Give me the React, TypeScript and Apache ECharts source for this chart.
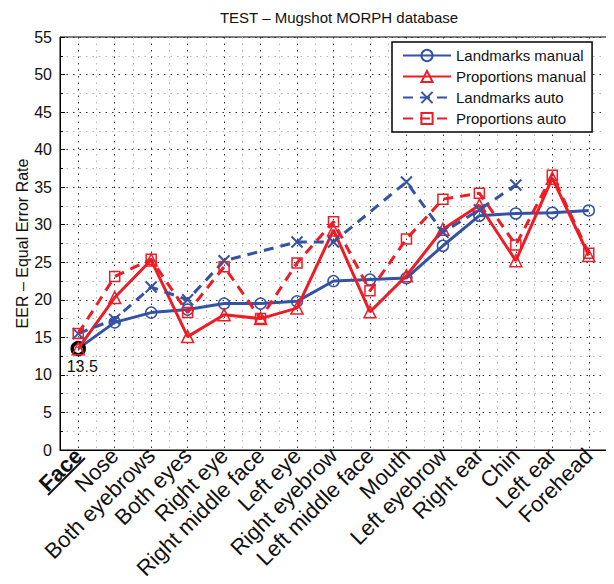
import React, { useEffect, useRef } from "react";
import * as echarts from "echarts";

const categories = [
  "Face", "Nose", "Both eyebrows", "Both eyes", "Right eye", "Right middle face",
  "Left eye", "Right eyebrow", "Left middle face", "Mouth", "Left eyebrow",
  "Right ear", "Chin", "Left ear", "Forehead",
];
const landmarksManual = [13.5, 17.0, 18.3, 18.7, 19.5, 19.5, 19.8, 22.5, 22.7, 22.9, 27.2, 31.2, 31.5, 31.6, 31.9];
const proportionsManual = [13.5, 20.3, 25.3, 15.1, 18.0, 17.5, 18.9, 29.3, 18.4, 23.2, 29.4, 32.6, 25.2, 36.2, 25.9];
const landmarksAuto = [15.5, 17.4, 21.7, 20.0, 25.2, null, 27.7, 27.7, null, 35.7, 29.0, 32.0, 35.3, null, null];
const proportionsAuto = [15.5, 23.1, 25.4, 18.3, 24.4, 17.5, 24.9, 30.4, 21.2, 28.1, 33.4, 34.2, 27.3, 36.6, 26.2];
const yTicks = { min: 0, max: 55, step: 5 };
const faceLabel = "13.5";

const BLUE = "#3553a5";
const RED = "#ee1c25";
const FONT = "Liberation Sans, Arial, Helvetica, sans-serif";

export default function App() {
  const ref = useRef<HTMLDivElement>(null);
  useEffect(() => {
    if (!ref.current) return;
    const chart = echarts.init(ref.current, undefined, { renderer: "svg" });
    const halfCats = Array.from({ length: categories.length * 2 }, (_, i) => String(i));
    const lmData: any[] = landmarksManual.map((v, i) =>
      i === 0
        ? {
            value: v,
            symbolSize: 12,
            itemStyle: { color: "transparent", borderColor: "#000", borderWidth: 3.5 },
            label: {
              show: true, position: "bottom", distance: 3, formatter: faceLabel,
              fontSize: 16, color: "#111", fontFamily: FONT, offset: [4, -1],
            },
          }
        : v
    );
    const option: any = {
      animation: false,
      textStyle: { fontFamily: FONT },
      title: {
        text: "TEST – Mugshot MORPH database",
        left: 334, textAlign: "center", top: 5,
        textStyle: { fontSize: 15, fontWeight: "normal", color: "#111", fontFamily: FONT },
      },
      grid: {
        left: 60, right: 7, top: 37, bottom: 134, show: true, borderColor: "#000", borderWidth: 1,
        backgroundColor: "transparent", containLabel: false, outerBoundsMode: "none",
      },
      legend: {
        orient: "vertical", left: 392, top: 42, padding: [6, 6, 6, 10], itemGap: 6,
        itemWidth: 48, itemHeight: 14, backgroundColor: "#fff", borderColor: "#000", borderWidth: 1.5,
        textStyle: { fontSize: 15, color: "#111", fontFamily: FONT },
      },
      graphic: [
        { type: "line", shape: { x1: 48, y1: 495, x2: 85, y2: 458 }, style: { stroke: "#111", lineWidth: 2 }, silent: true },
      ],
      xAxis: [
        {
          type: "category", data: categories, boundaryGap: true,
          axisLine: { lineStyle: { color: "#000", width: 1 } },
          axisTick: { alignWithLabel: true, inside: true, length: 5, lineStyle: { color: "#000" } },
          splitLine: { show: false },
          axisLabel: {
            rotate: 45, interval: 0, fontSize: 22, color: "#111", margin: 2, fontFamily: FONT,
            formatter: (v: string, i: number) => (i === 0 ? "{b|" + v + "}" : v),
            rich: { b: { fontWeight: "bold", fontSize: 22, color: "#111", fontFamily: FONT } },
          },
        },
        {
          type: "category", data: halfCats, boundaryGap: true, position: "bottom",
          axisLine: { show: false }, axisTick: { show: false }, axisLabel: { show: false },
          splitLine: { show: true, lineStyle: { color: ["#b5b5b5", "#333"], type: [1.5, 5], width: 1 } },
        },
      ],
      yAxis: {
        type: "value", min: yTicks.min, max: yTicks.max, interval: yTicks.step,
        axisLine: { show: true, lineStyle: { color: "#000" } },
        axisTick: { show: true, inside: true, length: 5, lineStyle: { color: "#000" } },
        minorTick: { show: true, splitNumber: 2, length: 3, lineStyle: { color: "#000" } },
        axisLabel: { fontSize: 16, color: "#111", margin: 8, fontFamily: FONT },
        splitLine: { show: true, lineStyle: { color: "#333", type: [1.5, 5], width: 1 } },
        minorSplitLine: { show: true, lineStyle: { color: "#b5b5b5", type: [1.5, 5], width: 1 } },
        name: "EER – Equal Error Rate", nameLocation: "middle", nameGap: 30, nameMoveOverlap: false,
        nameTextStyle: { fontSize: 16, color: "#111", fontFamily: FONT },
      },
      series: [
        {
          name: "Landmarks manual", type: "line", data: lmData, symbol: "circle", symbolSize: 11,
          lineStyle: { color: BLUE, width: 3 },
          itemStyle: { color: "transparent", borderColor: BLUE, borderWidth: 1.5 },
          z: 3,
        },
        {
          name: "Proportions manual", type: "line", data: proportionsManual, symbol: "triangle", symbolSize: 12,
          lineStyle: { color: RED, width: 3 },
          itemStyle: { color: "transparent", borderColor: RED, borderWidth: 1.5 },
          z: 4,
        },
        {
          name: "Landmarks auto", type: "line", data: landmarksAuto, connectNulls: true,
          symbol: "path://M0,0L10,10M10,0L0,10", symbolSize: 11,
          lineStyle: { color: BLUE, width: 3, type: [10, 7] },
          itemStyle: { color: "transparent", borderColor: BLUE, borderWidth: 2 },
          z: 5,
        },
        {
          name: "Proportions auto", type: "line", data: proportionsAuto, symbol: "rect", symbolSize: 10,
          lineStyle: { color: RED, width: 3, type: [10, 7] },
          itemStyle: { color: "transparent", borderColor: RED, borderWidth: 1.5 },
          z: 6,
        },
      ],
    };
    chart.setOption(option);
    return () => chart.dispose();
  }, []);
  return <div ref={ref} style={{ width: 614, height: 584, margin: -8 }} />;
}
